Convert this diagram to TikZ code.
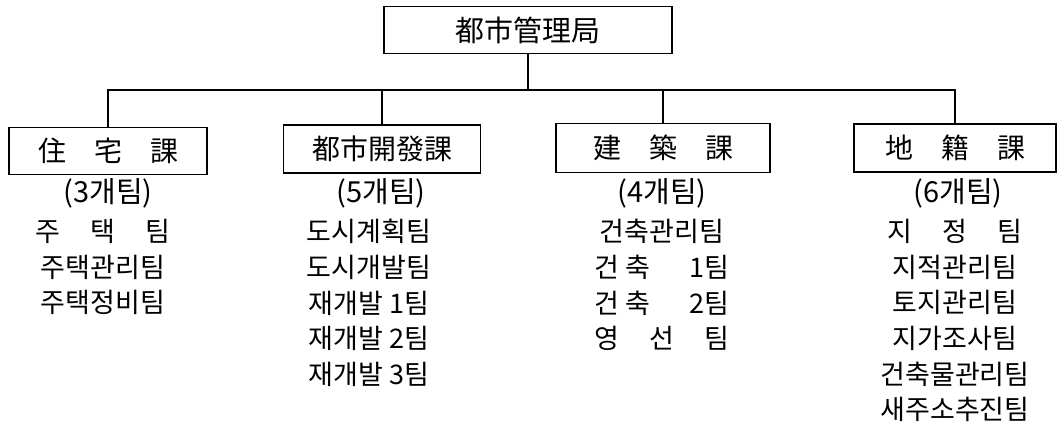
\documentclass[tikz,border=0pt]{standalone}
\usepackage{fontspec}
\newfontfamily\kr{Noto Sans CJK KR}
\newcommand{\spreadfive}[1]{\makebox[5em][s]{#1}}
\tikzset{
  deptbox/.style={draw, line width=0.9pt, inner sep=0pt, font=\kr\fontsize{14}{17}\selectfont},
  countlabel/.style={inner sep=0pt, font=\kr\fontsize{14.5}{17}\selectfont},
  teamlist/.style={inner sep=0pt, anchor=north, align=center, font=\kr\fontsize{13.5}{17.8}\selectfont},
  link/.style={line width=0.8pt}
}

\begin{document}
\begin{tikzpicture}[x=0.5pt, y=-0.5pt]
    \useasboundingbox (0,0) rectangle (1058,428);

    % Draw the boxes
    \node[deptbox, minimum width=144pt, minimum height=23.5pt, font=\kr\fontsize{14.5}{17}\selectfont] (bureau) at (528,30) {都市管理局};
    \node[deptbox, minimum width=99pt, minimum height=23.5pt] (housing) at (108,151) {\spreadfive{住\hfill 宅\hfill 課}};
    \node[deptbox, minimum width=98.5pt, minimum height=24pt] (urbandev) at (382,149) {都市開發課};
    \node[deptbox, minimum width=107pt, minimum height=24.5pt] (building) at (663,148) {\spreadfive{建\hfill 築\hfill 課}};
    \node[deptbox, minimum width=101pt, minimum height=24pt] (cadastre) at (955,148) {\spreadfive{地\hfill 籍\hfill 課}};

    % Connectors
    \coordinate (bus) at (528,90);
    \draw[link] (bureau.south) -- (bus);
    \foreach \dept in {housing, urbandev, building, cadastre}
        \draw[link] (\dept.north) |- (bus);

    % Team counts
    \node[countlabel] (housingcount) at (108,193) {(3개팀)};
    \node[countlabel] (urbandevcount) at (381,193) {(5개팀)};
    \node[countlabel] (buildingcount) at (662,193) {(4개팀)};
    \node[countlabel] (cadastrecount) at (958,193) {(6개팀)};

    % Team lists
    \node[teamlist] (housingteams) at (103,219) {\spreadfive{주\hfill 택\hfill 팀}\\주택관리팀\\주택정비팀};
    \node[teamlist] (urbandevteams) at (369,219) {도시계획팀\\도시개발팀\\재개발 1팀\\재개발 2팀\\재개발 3팀};
    \node[teamlist] (buildingteams) at (662,219) {건축관리팀\\\spreadfive{건 축\hfill 1팀}\\\spreadfive{건 축\hfill 2팀}\\\spreadfive{영\hfill 선\hfill 팀}};
    \node[teamlist] (cadastreteams) at (955,219) {\spreadfive{지\hfill 정\hfill 팀}\\지적관리팀\\토지관리팀\\지가조사팀\\건축물관리팀\\새주소추진팀};
\end{tikzpicture}
\end{document}
